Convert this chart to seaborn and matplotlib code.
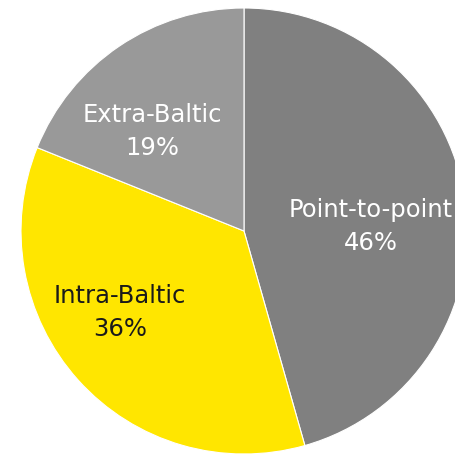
import matplotlib
matplotlib.use("Agg")
import matplotlib.pyplot as plt
import seaborn as sns

# Data
categories = ["Point-to-point", "Intra-Baltic", "Extra-Baltic"]
shares = [45.6, 35.5, 18.9]
pct_labels = ["46%", "36%", "19%"]

# Style
colors = ["#808080", "#FFE600", "#999999"]
text_colors = ["#FFFFFF", "#1A1A1A", "#FFFFFF"]
label_xy = [(0.57, 0.02), (-0.555, -0.365), (-0.41, 0.445)]

sns.set_theme(style="white")
plt.rcParams['font.family'] = ['DejaVu Sans']

fig = plt.figure(figsize=(4.56, 4.55), dpi=100)
ax = fig.add_axes([21 / 456, (455 - 454) / 455, 446 / 456, 446 / 455])

ax.pie(shares, colors=colors, startangle=90, counterclock=False,
       wedgeprops=dict(edgecolor="white", linewidth=0.8))

for cat, pct, (x, y), tc in zip(categories, pct_labels, label_xy, text_colors):
    ax.text(x, y, f"{cat}\n{pct}", ha="center", va="center", color=tc,
            fontsize=17.5, linespacing=1.45)

ax.set_xlim(-1, 1)
ax.set_ylim(-1, 1)
ax.set_aspect("equal")
ax.axis("off")

fig.savefig("out.png", dpi=100)
